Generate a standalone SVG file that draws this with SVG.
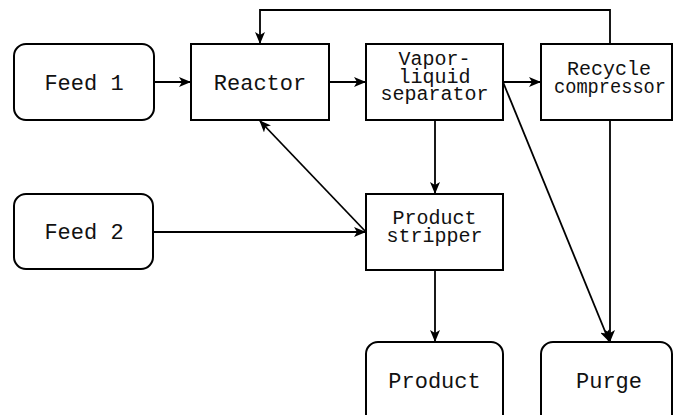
<svg xmlns="http://www.w3.org/2000/svg" width="674" height="415" viewBox="0 0 674 415">
  <defs>
    <marker id="arrow" viewBox="0 0 12 10" refX="11" refY="5" markerWidth="12" markerHeight="10" markerUnits="userSpaceOnUse" orient="auto">
      <path d="M0,0 L12,5 L0,10 L3,5 Z" fill="#000"/>
    </marker>
  </defs>
  <style>
    .box { fill: #fff; stroke: #000; stroke-width: 2; }
    .label { font-family: "Liberation Mono", "Courier New", monospace; font-size: 22px; fill: #111; text-anchor: middle; }
    .ml { font-size: 20px; }
    .edge { fill: none; stroke: #000; stroke-width: 1.8; marker-end: url(#arrow); }
  </style>
  <rect width="674" height="415" fill="#fff"/>

  <g id="connectors">
    <line class="edge" x1="154" y1="82" x2="190" y2="82"/>
    <line class="edge" x1="329" y1="82" x2="365" y2="82"/>
    <line class="edge" x1="503" y1="82" x2="540" y2="82"/>
    <polyline class="edge" points="610,44 610,10 260,10 260,43"/>
    <line class="edge" x1="435" y1="120" x2="435" y2="193"/>
    <line class="edge" x1="435" y1="270" x2="435" y2="341"/>
    <line class="edge" x1="153" y1="232" x2="365" y2="232"/>
    <line class="edge" x1="366" y1="232" x2="260" y2="121"/>
    <line class="edge" x1="503" y1="82" x2="609" y2="341"/>
    <line class="edge" x1="610" y1="120" x2="610" y2="341"/>
  </g>

  <g id="feed1">
    <rect class="box" x="14" y="44" width="140" height="76" rx="12"/>
    <text class="label" x="84" y="90">Feed 1</text>
  </g>
  <g id="reactor">
    <rect class="box" x="191" y="44" width="138" height="76"/>
    <text class="label" x="260" y="90">Reactor</text>
  </g>
  <g id="separator">
    <rect class="box" x="366" y="44" width="137" height="76"/>
    <text class="label ml" x="434.5" y="65">Vapor-</text>
    <text class="label ml" x="434.5" y="82.5">liquid</text>
    <text class="label ml" x="434.5" y="100">separator</text>
  </g>
  <g id="compressor">
    <rect class="box" x="541" y="44" width="131" height="76"/>
    <text class="label ml" x="609" y="75">Recycle</text>
    <text class="label ml" x="610" y="92.5" textLength="112" lengthAdjust="spacingAndGlyphs">compressor</text>
  </g>
  <g id="feed2">
    <rect class="box" x="14" y="194" width="139" height="75" rx="12"/>
    <text class="label" x="84" y="239">Feed 2</text>
  </g>
  <g id="stripper">
    <rect class="box" x="366" y="194" width="137" height="76"/>
    <text class="label ml" x="434.5" y="224">Product</text>
    <text class="label ml" x="434.5" y="241.5">stripper</text>
  </g>
  <g id="product">
    <rect class="box" x="366" y="342" width="137" height="90" rx="12"/>
    <text class="label" x="434.5" y="388">Product</text>
  </g>
  <g id="purge">
    <rect class="box" x="541" y="342" width="131" height="90" rx="12"/>
    <text class="label" x="609" y="388">Purge</text>
  </g>
</svg>
